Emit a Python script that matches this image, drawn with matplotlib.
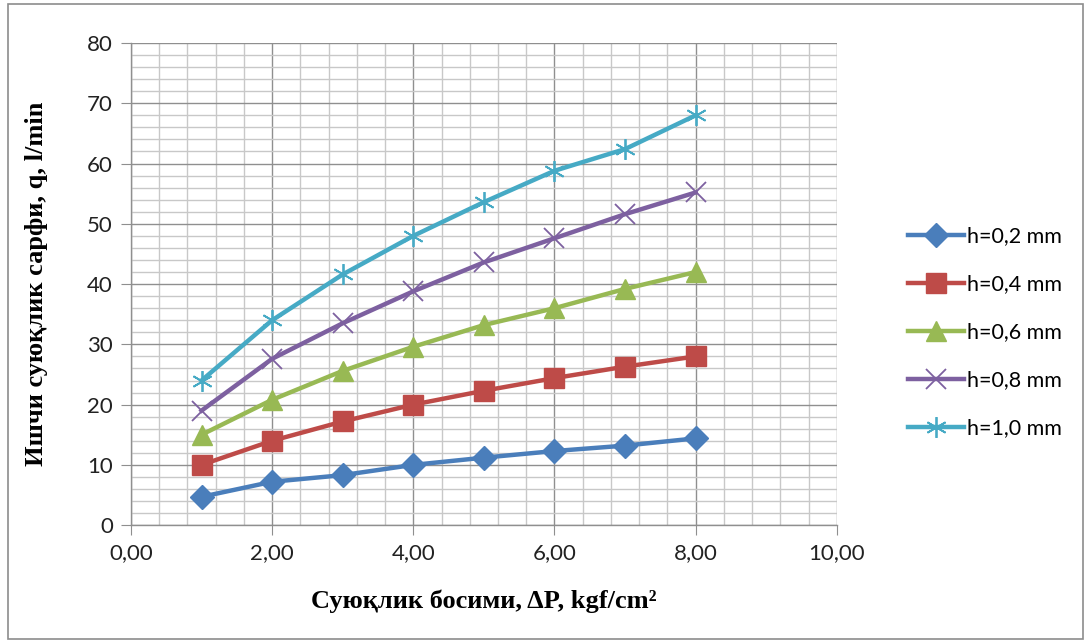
import matplotlib.pyplot as plt
from matplotlib.patches import Rectangle
from matplotlib.ticker import MultipleLocator, FuncFormatter

# данные
pressure = [1, 2, 3, 4, 5, 6, 7, 8]
h_02 = [4.7, 7.2, 8.3, 10.0, 11.2, 12.3, 13.2, 14.4]
h_04 = [10.0, 14.0, 17.2, 20.0, 22.3, 24.4, 26.3, 28.0]
h_06 = [15.0, 20.8, 25.6, 29.6, 33.2, 36.0, 39.2, 42.0]
h_08 = [19.0, 27.6, 33.5, 38.8, 43.6, 47.6, 51.6, 55.2]
h_10 = [24.0, 34.0, 41.6, 48.0, 53.6, 58.8, 62.4, 68.0]

labels = ["h=0,2 mm", "h=0,4 mm", "h=0,6 mm", "h=0,8 mm", "h=1,0 mm"]
series = [h_02, h_04, h_06, h_08, h_10]
colors = ["#4A7EBB", "#BE4B48", "#98B954", "#7D60A0", "#46AAC5"]
markers = ["D", "s", "^", "x", (6, 2, 0)]
msizes = [12, 14.5, 14.5, 14, 15]

fig = plt.figure(figsize=(10.91, 6.42), dpi=100)
ax = fig.add_axes([0.120, 0.182, 0.647, 0.751])

# рамка вокруг всей диаграммы
fig.patches.append(Rectangle((0.007, 0.005), 0.986, 0.988, transform=fig.transFigure,
                             fill=False, edgecolor="#8c8c8c", linewidth=1.2))

for y, lab, c, m, ms in zip(series, labels, colors, markers, msizes):
    thin = m == "x" or isinstance(m, tuple)
    ax.plot(pressure, y, color=c, linewidth=3.2, label=lab, marker=m,
            markersize=ms, markeredgewidth=1.3 if thin else 1.0,
            markeredgecolor=c, zorder=3)

ax.set_xlim(0, 10)
ax.set_ylim(0, 80)
ax.xaxis.set_major_locator(MultipleLocator(2))
ax.xaxis.set_minor_locator(MultipleLocator(0.4))
ax.yaxis.set_major_locator(MultipleLocator(10))
ax.yaxis.set_minor_locator(MultipleLocator(2))
ax.xaxis.set_major_formatter(FuncFormatter(lambda v, p: f"{v:.2f}".replace(".", ",")))

ax.grid(which="minor", color="#c8c8c8", linewidth=1.0)
ax.grid(which="major", color="#8f8f8f", linewidth=1.0)
ax.set_axisbelow(True)

for s in ["top", "right"]:
    ax.spines[s].set_visible(False)
for s in ["left", "bottom"]:
    ax.spines[s].set_color("#8f8f8f")
    ax.spines[s].set_linewidth(1.0)

ax.tick_params(which="major", length=7, color="#8f8f8f", labelsize=16, pad=6)
ax.tick_params(which="minor", length=0)
for t in ax.get_xticklabels() + ax.get_yticklabels():
    t.set_fontfamily("Lato")
    t.set_color("#222222")

ax.set_xlabel("Суюқлик босими, ΔP, kgf/cm²", fontfamily="Liberation Serif",
              fontsize=19, fontweight="bold", labelpad=19)
ax.set_ylabel("Ишчи суюқлик сарфи, q, l/min", fontfamily="Liberation Serif",
              fontsize=19, fontweight="bold", labelpad=28)

leg = ax.legend(loc="center left", bbox_to_anchor=(1.074, 0.40), frameon=False,
                prop={"family": "Lato", "size": 15.5}, labelspacing=1.3,
                handlelength=2.6, handletextpad=0.1)

fig.savefig("out.png", dpi=100)
